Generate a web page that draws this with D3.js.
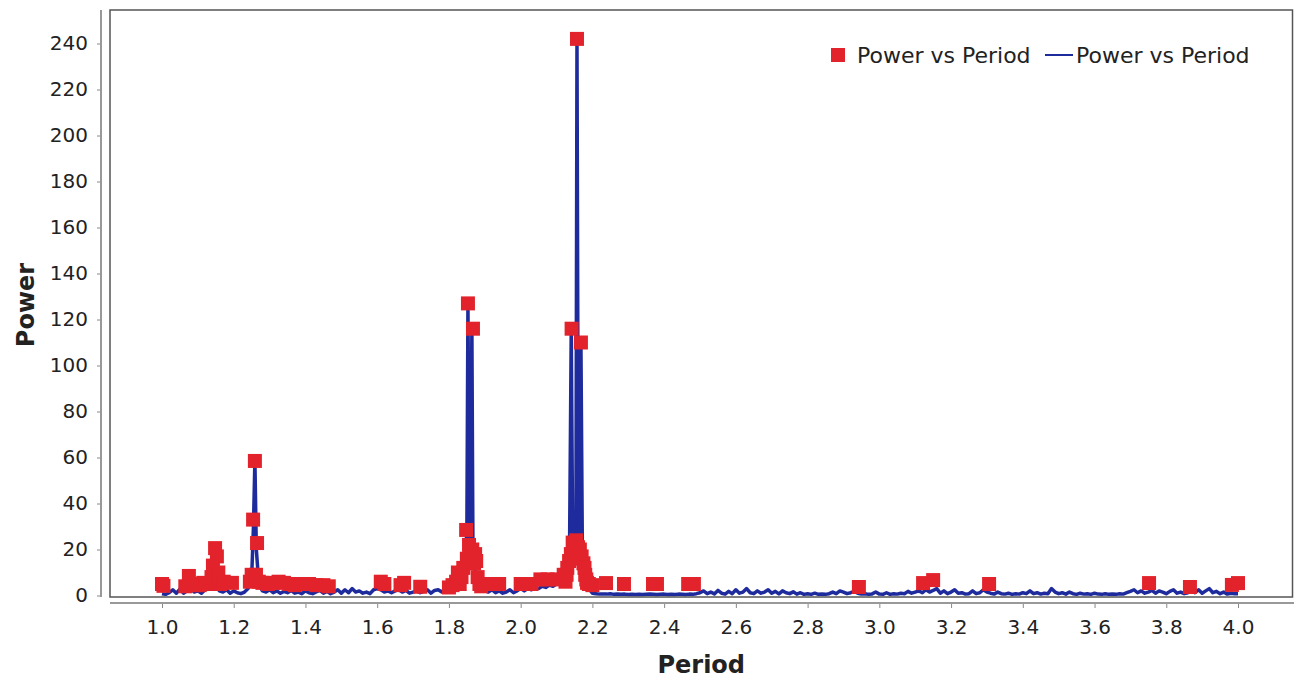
<!DOCTYPE html>
<html>
<head>
<meta charset="utf-8">
<script src="https://cdn.jsdelivr.net/npm/d3@7"></script>
<style>
    body { margin: 0; background: #fff; }
    text { font-family: "DejaVu Sans", sans-serif; }
</style>
</head>
<body>
<script>
// dimensions
const width = 1294;
const height = 684;

const line_color = "#1e2b9c";
const point_color = "#e3232c";
const point_size = 14;

// tick labels
const xTicks = [1.0, 1.2, 1.4, 1.6, 1.8, 2.0, 2.2, 2.4, 2.6, 2.8, 3.0, 3.2, 3.4, 3.6, 3.8, 4.0];
const yTicks = [0, 20, 40, 60, 80, 100, 120, 140, 160, 180, 200, 220, 240];

// series names
const seriesNames = ["Power vs Period", "Power vs Period"];

// line series: [period, power]
const lineData = [
    [1.000, 0.8], [1.010, 0.5], [1.020, 1.2], [1.030, 2.5], [1.040, 1.0], [1.050, 2.8], [1.060, 1.0],
    [1.070, 2.0], [1.080, 3.0], [1.090, 1.5], [1.100, 2.0], [1.110, 1.0], [1.120, 2.5], [1.130, 3.0],
    [1.140, 6.0], [1.145, 9.0], [1.150, 5.0], [1.160, 2.0], [1.170, 1.5], [1.180, 2.5], [1.190, 1.0],
    [1.200, 2.0], [1.210, 1.2], [1.220, 0.8], [1.230, 1.5], [1.240, 3.0], [1.250, 8.0], [1.255, 30.0],
    [1.259, 59.0], [1.263, 20.0], [1.270, 5.0], [1.280, 2.0], [1.290, 1.5], [1.300, 2.5], [1.310, 1.2],
    [1.320, 2.0], [1.330, 1.0], [1.340, 1.8], [1.350, 1.2], [1.360, 2.2], [1.370, 1.0], [1.380, 1.5],
    [1.390, 0.8], [1.400, 2.0], [1.410, 1.2], [1.420, 0.8], [1.430, 1.6], [1.440, 2.2], [1.450, 1.0],
    [1.460, 1.8], [1.470, 0.8], [1.480, 1.5], [1.490, 2.5], [1.500, 1.0], [1.510, 2.5], [1.520, 1.2],
    [1.530, 3.0], [1.540, 1.5], [1.550, 2.0], [1.560, 1.0], [1.570, 1.5], [1.580, 0.8], [1.590, 2.5],
    [1.600, 3.0], [1.610, 2.5], [1.620, 1.5], [1.630, 2.0], [1.640, 1.2], [1.650, 2.0], [1.660, 2.5],
    [1.670, 1.5], [1.680, 2.2], [1.690, 1.0], [1.700, 1.5], [1.710, 2.0], [1.720, 1.2], [1.730, 1.8],
    [1.740, 2.5], [1.750, 1.0], [1.760, 2.2], [1.770, 2.5], [1.780, 1.5], [1.790, 3.0], [1.800, 4.0],
    [1.810, 5.0], [1.820, 6.0], [1.830, 8.0], [1.840, 12.0], [1.847, 20.0], [1.850, 28.0], [1.853, 127.0],
    [1.857, 22.0], [1.860, 20.0], [1.864, 116.0], [1.867, 18.0], [1.870, 15.0], [1.875, 8.0], [1.880, 5.0],
    [1.890, 3.0], [1.900, 2.0], [1.910, 1.5], [1.920, 2.5], [1.930, 1.2], [1.940, 2.0], [1.950, 1.0],
    [1.960, 1.5], [1.970, 2.5], [1.980, 1.2], [1.990, 2.0], [2.000, 3.0], [2.010, 2.0], [2.020, 3.0],
    [2.030, 2.5], [2.040, 3.5], [2.050, 3.0], [2.060, 4.0], [2.070, 3.5], [2.080, 4.5], [2.090, 4.0],
    [2.100, 5.0], [2.110, 6.0], [2.120, 7.0], [2.130, 10.0], [2.136, 15.0], [2.141, 116.0], [2.145, 22.0],
    [2.150, 20.0], [2.154, 24.0], [2.157, 242.0], [2.161, 20.0], [2.165, 18.0], [2.168, 110.0],
    [2.172, 20.0], [2.175, 15.0], [2.180, 9.0], [2.185, 5.0], [2.190, 3.0], [2.200, 1.0], [2.210, 0.8],
    [2.220, 0.6], [2.230, 0.7], [2.240, 0.6], [2.250, 0.8], [2.260, 0.5], [2.270, 0.6], [2.280, 0.5],
    [2.290, 0.6], [2.300, 0.4], [2.310, 0.5], [2.320, 0.4], [2.330, 0.5], [2.340, 0.4], [2.350, 0.5],
    [2.360, 0.6], [2.370, 0.5], [2.380, 0.4], [2.390, 0.5], [2.400, 0.6], [2.410, 0.4], [2.420, 0.5],
    [2.430, 0.4], [2.440, 0.6], [2.450, 0.5], [2.460, 0.4], [2.470, 0.6], [2.480, 0.5], [2.490, 0.8],
    [2.500, 1.2], [2.510, 2.0], [2.520, 0.8], [2.530, 1.5], [2.540, 0.7], [2.550, 2.2], [2.560, 1.0],
    [2.570, 0.6], [2.580, 1.8], [2.590, 0.8], [2.600, 2.5], [2.610, 1.0], [2.620, 1.5], [2.630, 3.0],
    [2.640, 1.2], [2.650, 0.8], [2.660, 2.0], [2.670, 1.0], [2.680, 1.5], [2.690, 2.5], [2.700, 1.0],
    [2.710, 1.8], [2.720, 0.7], [2.730, 2.0], [2.740, 1.2], [2.750, 0.8], [2.760, 1.6], [2.770, 0.6],
    [2.780, 1.2], [2.790, 0.5], [2.800, 0.8], [2.810, 0.5], [2.820, 1.0], [2.830, 0.5], [2.840, 0.6],
    [2.850, 0.5], [2.860, 0.8], [2.870, 1.5], [2.880, 0.8], [2.890, 2.0], [2.900, 1.5], [2.910, 0.8],
    [2.920, 1.2], [2.930, 1.8], [2.940, 1.0], [2.950, 0.6], [2.960, 0.8], [2.970, 0.5], [2.980, 0.7],
    [2.990, 1.5], [3.000, 0.6], [3.010, 0.5], [3.020, 1.2], [3.030, 0.5], [3.040, 0.8], [3.050, 0.6],
    [3.060, 1.0], [3.070, 0.8], [3.080, 1.8], [3.090, 1.0], [3.100, 1.5], [3.110, 2.0], [3.120, 1.2],
    [3.130, 2.5], [3.140, 1.5], [3.150, 2.2], [3.160, 3.0], [3.170, 1.0], [3.180, 2.0], [3.190, 0.8],
    [3.200, 1.5], [3.210, 2.5], [3.220, 1.0], [3.230, 1.2], [3.240, 0.6], [3.250, 0.8], [3.260, 2.0],
    [3.270, 0.8], [3.280, 1.2], [3.290, 2.5], [3.300, 1.5], [3.310, 1.0], [3.320, 0.6], [3.330, 1.5],
    [3.340, 0.8], [3.350, 0.6], [3.360, 1.0], [3.370, 0.5], [3.380, 0.8], [3.390, 0.6], [3.400, 1.2],
    [3.410, 0.8], [3.420, 2.0], [3.430, 0.8], [3.440, 1.2], [3.450, 0.6], [3.460, 1.0], [3.470, 0.8],
    [3.480, 3.0], [3.490, 1.5], [3.500, 0.8], [3.510, 1.2], [3.520, 0.6], [3.530, 1.5], [3.540, 0.8],
    [3.550, 0.5], [3.560, 1.0], [3.570, 0.6], [3.580, 0.8], [3.590, 0.5], [3.600, 1.0], [3.610, 0.6],
    [3.620, 0.5], [3.630, 0.8], [3.640, 0.5], [3.650, 0.7], [3.660, 0.5], [3.670, 0.8], [3.680, 0.6],
    [3.690, 1.2], [3.700, 1.8], [3.710, 2.5], [3.720, 1.2], [3.730, 2.0], [3.740, 1.0], [3.750, 1.5],
    [3.760, 2.2], [3.770, 1.0], [3.780, 2.0], [3.790, 1.5], [3.800, 0.8], [3.810, 1.8], [3.820, 2.5],
    [3.830, 1.0], [3.840, 1.5], [3.850, 0.8], [3.860, 1.2], [3.870, 2.0], [3.880, 1.2], [3.890, 2.5],
    [3.900, 1.0], [3.910, 2.0], [3.920, 3.0], [3.930, 1.2], [3.940, 1.8], [3.950, 0.8], [3.960, 1.5],
    [3.970, 0.6], [3.980, 1.0], [3.990, 0.8], [4.000, 0.8]
];

// point series: [period, power]
const pointData = [
    [1.000, 5.0], [1.004, 4.2], [1.065, 4.0], [1.075, 8.5], [1.085, 5.0], [1.095, 4.5], [1.105, 4.5],
    [1.115, 5.5], [1.130, 5.0], [1.138, 8.0], [1.142, 13.0], [1.148, 20.6], [1.153, 17.0], [1.157, 10.0],
    [1.162, 5.0], [1.172, 6.0], [1.195, 5.5], [1.245, 6.0], [1.250, 9.0], [1.254, 33.0], [1.259, 58.5],
    [1.262, 9.0], [1.265, 22.8], [1.270, 6.0], [1.280, 5.5], [1.295, 5.0], [1.310, 5.5], [1.325, 6.0],
    [1.340, 5.5], [1.355, 5.0], [1.370, 4.5], [1.390, 5.0], [1.410, 5.0], [1.430, 4.5], [1.450, 4.5],
    [1.465, 4.0], [1.610, 6.0], [1.620, 5.0], [1.665, 4.5], [1.675, 5.5], [1.720, 3.8], [1.800, 3.5],
    [1.810, 4.5], [1.820, 6.0], [1.825, 10.0], [1.830, 5.0], [1.835, 8.0], [1.840, 12.0], [1.848, 28.5],
    [1.850, 16.0], [1.853, 127.0], [1.856, 22.0], [1.860, 19.0], [1.862, 17.0], [1.865, 20.0],
    [1.867, 116.0], [1.870, 14.0], [1.873, 18.0], [1.876, 15.0], [1.880, 8.0], [1.885, 5.0], [1.890, 4.0],
    [1.920, 5.0], [1.940, 5.0], [2.000, 5.0], [2.030, 5.0], [2.055, 7.0], [2.075, 7.0], [2.100, 7.0],
    [2.120, 9.0], [2.125, 6.0], [2.128, 9.0], [2.130, 12.0], [2.135, 15.0], [2.140, 18.0], [2.142, 116.0],
    [2.145, 23.0], [2.150, 16.0], [2.152, 22.0], [2.155, 24.0], [2.157, 242.0], [2.160, 21.0],
    [2.165, 20.0], [2.168, 110.0], [2.170, 17.0], [2.175, 14.0], [2.178, 12.0], [2.180, 9.0], [2.183, 7.0],
    [2.185, 5.5], [2.190, 5.0], [2.200, 4.5], [2.238, 5.4], [2.288, 5.0], [2.369, 5.0], [2.380, 5.0],
    [2.467, 5.0], [2.483, 5.0], [2.943, 3.7], [3.122, 5.4], [3.150, 6.7], [3.306, 5.0], [3.752, 5.4],
    [3.866, 3.7], [3.983, 4.6], [4.000, 5.4]
];

const svg = d3.select("body")
    .append("svg")
    .attr("width", width)
    .attr("height", height);

// plot frame
const frame = { left: 110, top: 10, right: 1292.5, bottom: 597 };

const x = d3.scaleLinear()
    .domain([1.0, 4.0])
    .range([162, 1238]);

const y = d3.scaleLinear()
    .domain([0, 240])
    .range([595.5, 43.5]);

svg.append("clipPath")
    .attr("id", "plot-clip")
    .append("rect")
    .attr("x", frame.left)
    .attr("y", frame.top)
    .attr("width", frame.right - frame.left)
    .attr("height", frame.bottom - frame.top);

// x axis, drawn below the frame
const xAxis = svg.append("g")
    .attr("transform", "translate(0,603)")
    .call(d3.axisBottom(x)
        .tickValues(xTicks)
        .tickSize(5)
        .tickPadding(12)
        .tickFormat(d3.format(".1f")));
xAxis.select(".domain").remove();
xAxis.append("line")
    .attr("x1", frame.left)
    .attr("x2", width)
    .attr("stroke", "#999")
    .attr("stroke-width", 2);
xAxis.selectAll(".tick line").attr("stroke", "#888");
xAxis.selectAll(".tick text")
    .attr("fill", "#222")
    .style("font-size", "20px");

// y axis, drawn left of the frame
const yAxis = svg.append("g")
    .attr("transform", "translate(101,0)")
    .call(d3.axisLeft(y)
        .tickValues(yTicks)
        .tickSize(4)
        .tickPadding(9));
yAxis.select(".domain").remove();
yAxis.append("line")
    .attr("y1", frame.top)
    .attr("y2", frame.bottom)
    .attr("stroke", "#999")
    .attr("stroke-width", 2);
yAxis.selectAll(".tick line").attr("stroke", "#888");
yAxis.selectAll(".tick text")
    .attr("fill", "#222")
    .style("font-size", "20px");

// axis titles
svg.append("text")
    .attr("x", (frame.left + frame.right) / 2)
    .attr("y", 673)
    .attr("text-anchor", "middle")
    .style("font-size", "24px")
    .style("font-weight", "bold")
    .attr("fill", "#222")
    .text("Period");

svg.append("text")
    .attr("transform", "translate(34,305) rotate(-90)")
    .attr("text-anchor", "middle")
    .style("font-size", "24px")
    .style("font-weight", "bold")
    .attr("fill", "#222")
    .text("Power");

// data layer
const plot = svg.append("g")
    .attr("clip-path", "url(#plot-clip)");

const line = d3.line()
    .x(function (d) { return x(d[0]); })
    .y(function (d) { return y(d[1]); });

plot.append("path")
    .datum(lineData)
    .attr("d", line)
    .attr("fill", "none")
    .attr("stroke", line_color)
    .attr("stroke-width", 3.5)
    .attr("stroke-linejoin", "round");

plot.selectAll(".point")
    .data(pointData)
    .enter()
    .append("rect")
    .attr("class", "point")
    .attr("x", function (d) { return x(d[0]) - point_size / 2; })
    .attr("y", function (d) { return y(d[1]) - point_size / 2; })
    .attr("width", point_size)
    .attr("height", point_size)
    .attr("fill", point_color);

// frame border on top
svg.append("rect")
    .attr("x", frame.left)
    .attr("y", frame.top)
    .attr("width", frame.right - frame.left)
    .attr("height", frame.bottom - frame.top)
    .attr("fill", "none")
    .attr("stroke", "#555")
    .attr("stroke-width", 1.5);

// legend
const legend = svg.append("g");
legend.append("rect")
    .attr("x", 831)
    .attr("y", 48)
    .attr("width", 14)
    .attr("height", 14)
    .attr("fill", point_color);
legend.append("text")
    .attr("x", 857)
    .attr("y", 63)
    .style("font-size", "22px")
    .attr("fill", "#222")
    .text(seriesNames[0]);
legend.append("line")
    .attr("x1", 1045)
    .attr("x2", 1073)
    .attr("y1", 55)
    .attr("y2", 55)
    .attr("stroke", line_color)
    .attr("stroke-width", 2);
legend.append("text")
    .attr("x", 1076)
    .attr("y", 63)
    .style("font-size", "22px")
    .attr("fill", "#222")
    .text(seriesNames[1]);
</script>
</body>
</html>
